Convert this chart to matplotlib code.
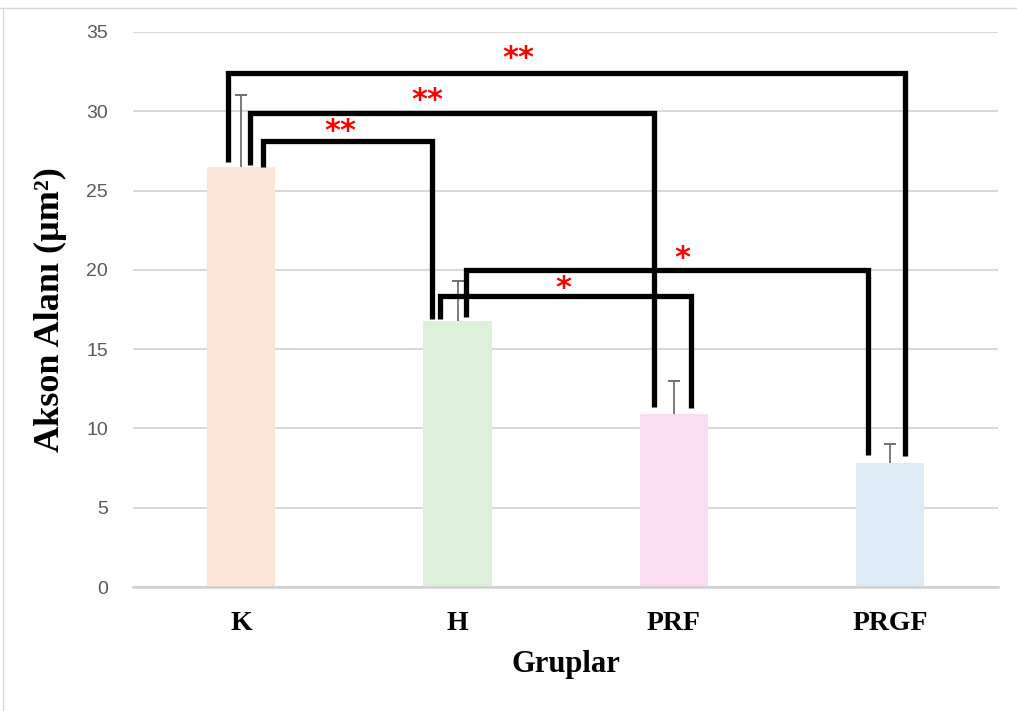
import matplotlib
matplotlib.use('Agg')
import matplotlib.pyplot as plt
from matplotlib.lines import Line2D

plt.rcParams['font.family'] = ['Liberation Serif', 'DejaVu Serif']

OUTPUT_FILE = "out.png"

# data
groups = ["K", "H", "PRF", "PRGF"]
means = [26.5, 16.8, 10.9, 7.8]
errors = [4.5, 2.5, 2.1, 1.2]
bar_colors = ["#FCE4D6", "#DDF0D9", "#FCDCF2", "#DDEBF7"]

# significance brackets: (group a, group b, line height, label)
pairs_a = [0, 0, 0, 1, 1]
pairs_b = [3, 2, 1, 2, 3]
heights = [32.4, 29.9, 28.1, 18.35, 20.0]
labels = ["**", "**", "**", "*", "*"]
# leg offsets from bar centre and leg bottoms
off_a = [-0.06, 0.04, 0.10, -0.08, 0.04]
off_b = [0.07, -0.09, -0.12, 0.08, -0.10]
bot_a = [26.8, 26.6, 26.5, 16.9, 17.0]
bot_b = [8.25, 11.35, 16.9, 11.3, 8.3]
# star label positions
star_x = [1.28, 0.86, 0.46, 1.49, 2.04]
star_y = [33.3, 30.7, 28.7, 18.8, 20.7]


def main():
    fig = plt.figure(figsize=(10.17, 7.11), dpi=100)
    ax = fig.add_axes([0.1310, 0.1744, 0.8503, 0.7806])

    x = list(range(len(groups)))
    ax.bar(x, means, width=0.315, color=bar_colors, zorder=2)
    # upper whiskers only
    ax.errorbar(x, means, yerr=[[0] * len(errors), errors], fmt='none',
                ecolor='#707070', elinewidth=1.3, capsize=0, zorder=3)
    tops = [m + e for m, e in zip(means, errors)]
    ax.plot(x, tops, linestyle='none', marker='_', markersize=8,
            markeredgewidth=1.4, color='#707070', zorder=3)

    for i in range(len(labels)):
        xa = pairs_a[i] + off_a[i]
        xb = pairs_b[i] + off_b[i]
        ax.plot([xa, xa, xb, xb], [bot_a[i], heights[i], heights[i], bot_b[i]],
                color='black', linewidth=3.8, solid_joinstyle='miter',
                solid_capstyle='butt', zorder=4)
        ax.text(star_x[i], star_y[i], labels[i], color='red', fontsize=22,
                fontweight='bold', ha='center', va='center', zorder=5,
                family=['DejaVu Sans'])

    ax.set_xlim(-0.5, 3.5)
    ax.set_ylim(0, 35)
    ax.set_yticks(range(0, 36, 5))
    ax.yaxis.grid(True, color='#D9D9D9', linewidth=1.5, zorder=0)
    ax.set_axisbelow(True)
    for s in ['top', 'right', 'left']:
        ax.spines[s].set_visible(False)
    ax.spines['bottom'].set_color('#D0D0D0')
    ax.spines['bottom'].set_linewidth(1.8)
    ax.tick_params(axis='both', length=0)
    ax.tick_params(axis='y', pad=18, labelcolor='#595959')
    ax.set_xticks(x)
    ax.set_xticklabels(groups, fontsize=20, fontweight='bold')
    ax.tick_params(axis='x', pad=17)
    for t in ax.get_yticklabels():
        t.set_family(['Liberation Sans Narrow', 'Liberation Sans', 'DejaVu Sans'])
        t.set_fontsize(14)

    ax.set_xlabel('Gruplar', fontsize=22, fontweight='bold', labelpad=10)
    ax.set_ylabel('Akson Alanı (µm²)', fontsize=26, fontweight='bold', labelpad=14)

    # faint border of the original screenshot
    fig.add_artist(Line2D([0, 1], [0.989, 0.989], color='#D9D9D9', linewidth=1))
    fig.add_artist(Line2D([0.003, 0.003], [0, 0.989], color='#D9D9D9', linewidth=1))

    fig.savefig(OUTPUT_FILE, dpi=100)


if __name__ == "__main__":
    main()
